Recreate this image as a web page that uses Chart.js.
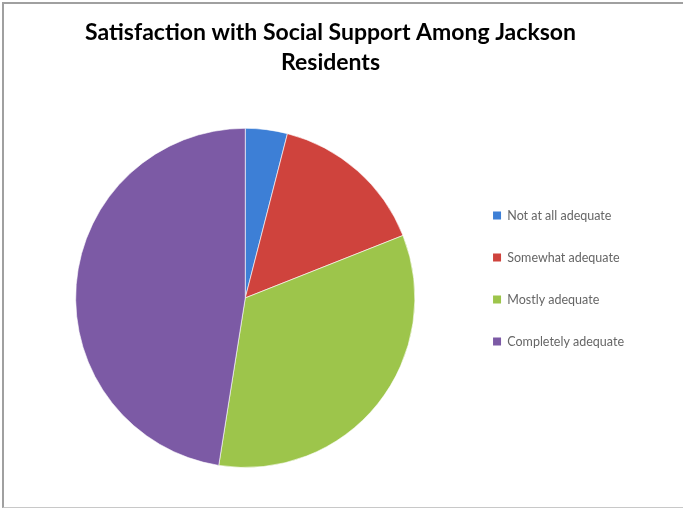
<!DOCTYPE html>
<html>
<head>
<meta charset="utf-8">
<script src="https://cdn.jsdelivr.net/npm/chart.js@4"></script>
<style>
  html, body { margin: 0; padding: 0; background: #fff; }
  #marco {
    position: absolute; left: 2px; top: 2px; width: 700px; height: 503px;
    border-left: 2px solid #a0a0a0; border-top: 2px solid #a0a0a0; border-bottom: 1px solid #c8c8c8;
  }
  #wrap { position: absolute; left: 0; top: 0; width: 683px; height: 508px; }
</style>
</head>
<body>
<div id="marco"></div>
<div id="wrap"><canvas id="chartSatisfaccion"></canvas></div>
<script>
// Datos (porcentaje aproximado)
const categorias = ["Not at all adequate", "Somewhat adequate", "Mostly adequate", "Completely adequate"];
const valores = [4, 15, 33.5, 47.5];
const colores = ["#3d7fd6", "#cf433d", "#9dc54b", "#7c5aa5"];
const coloresOscuros = ["#2c60a8", "#9e302b", "#7c9e37", "#5e4282"];

function degradado(ctx) {
  const chart = ctx.chart;
  const arc = chart.getDatasetMeta(0).data[ctx.dataIndex];
  const i = ctx.dataIndex;
  if (!arc || !isFinite(arc.x) || !isFinite(arc.y) || !(arc.outerRadius > 0)) return colores[i];
  const r = arc.outerRadius;
  const g = chart.ctx.createRadialGradient(arc.x, arc.y - r * 0.2, r * 0.1, arc.x, arc.y, r);
  g.addColorStop(0, colores[i]);
  g.addColorStop(0.9, colores[i]);
  g.addColorStop(1, coloresOscuros[i]);
  return g;
}

new Chart(document.getElementById("chartSatisfaccion"), {
  type: "pie",
  data: {
    labels: categorias,
    datasets: [
      {
        data: valores,
        backgroundColor: degradado,
        borderColor: "rgba(255,255,255,0.6)",
        borderWidth: 1,
      },
    ],
  },
  options: {
    responsive: true,
    maintainAspectRatio: false,
    animation: false,
    layout: { padding: { left: 27, right: 49, top: 0, bottom: 40 } },
    plugins: {
      title: {
        display: true,
        text: ["Satisfaction with Social Support Among Jackson", "Residents"],
        color: "#000",
        font: { family: "Lato", size: 23, weight: "bold", lineHeight: 1.3 },
        padding: { top: 18, bottom: 50 },
      },
      legend: {
        position: "right",
        // titulo vacio solo para bajar los items
        title: { display: true, text: " ", padding: 0, font: { size: 89, lineHeight: 1 } },
        labels: {
          color: "#000",
          font: { family: "Lato", size: 12.5 },
          boxWidth: 8,
          boxHeight: 8,
          padding: 29.5,
          generateLabels: (chart) =>
            categorias.map((t, i) => ({
              text: t,
              fillStyle: colores[i],
              strokeStyle: coloresOscuros[i],
              lineWidth: 0,
              index: i,
              datasetIndex: 0,
            })),
        },
      },
      tooltip: { enabled: false },
    },
  },
});
</script>
</body>
</html>
